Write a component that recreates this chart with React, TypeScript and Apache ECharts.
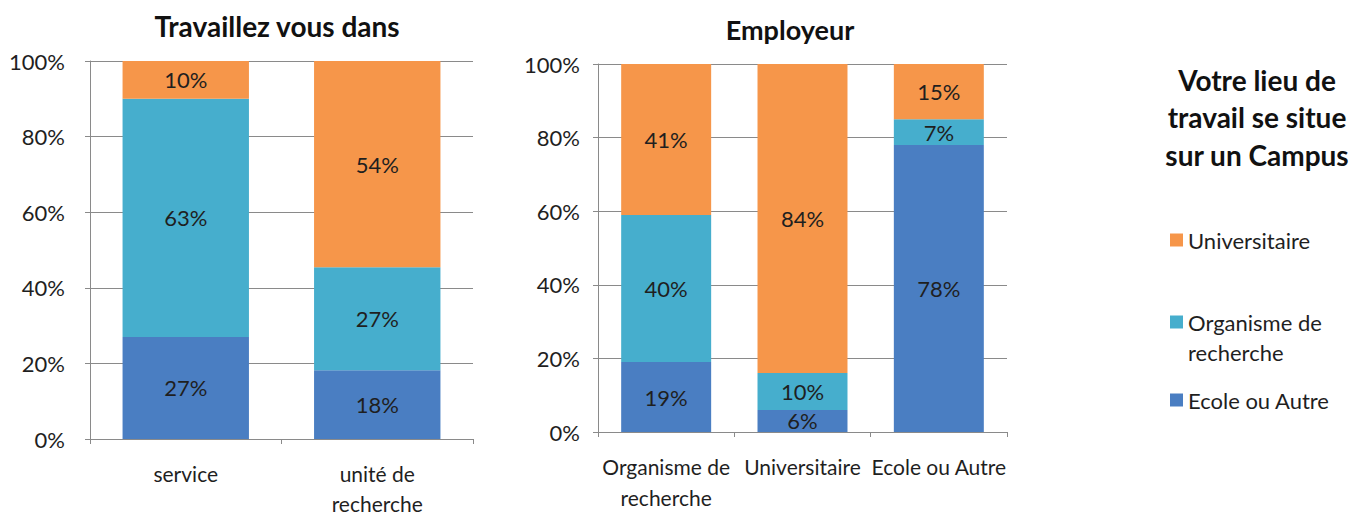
import React, { useEffect, useRef } from "react";
import * as echarts from "echarts";

const seriesNames = ["Ecole ou Autre", "Organisme de recherche", "Universitaire"];
const colors = ["#4A7EC2", "#46AECD", "#F6964A"];

const cats1 = ["service", "unité de\nrecherche"];
const ecole1 = [27, 18];
const organisme1 = [63, 27];
const univ1 = [10, 54];

const cats2 = ["Organisme de\nrecherche", "Universitaire", "Ecole ou Autre"];
const ecole2 = [19, 6, 78];
const organisme2 = [40, 10, 7];
const univ2 = [41, 84, 15];

const yTicks = [0, 20, 40, 60, 80, 100];

const FONT = "Lato, 'Open Sans', sans-serif";
const TXT = "#1f1f1f";
const AXIS = "#8A8A8A";

function toShares(groups: number[][]) {
  const n = groups[0].length;
  const totals = Array.from({ length: n }, (_, i) => groups.reduce((s, g) => s + g[i], 0));
  return groups.map((g) => g.map((v, i) => ({ value: (v / totals[i]) * 100, raw: v })));
}

export default function App() {
  const ref = useRef<HTMLDivElement>(null);
  useEffect(() => {
    if (!ref.current) return;
    const chart = echarts.init(ref.current, null, { renderer: "svg" });
    const s1 = toShares([ecole1, organisme1, univ1]);
    const s2 = toShares([ecole2, organisme2, univ2]);

    const yAxisBase = (gridIndex: number, margin: number) => ({
      type: "value",
      gridIndex,
      min: yTicks[0],
      max: yTicks[yTicks.length - 1],
      interval: 20,
      axisLine: { show: true, lineStyle: { color: AXIS, width: 1 } },
      axisTick: { show: true, length: 5, lineStyle: { color: AXIS } },
      splitLine: { show: true, lineStyle: { color: AXIS, width: 1 } },
      axisLabel: {
        formatter: "{value}%",
        fontSize: 22,
        fontFamily: FONT,
        color: TXT,
        margin,
      },
    });
    const xAxisBase = (gridIndex: number, data: string[], margin: number, lineHeight: number) => ({
      type: "category",
      gridIndex,
      data,
      axisLine: { show: true, lineStyle: { color: AXIS, width: 1 } },
      axisTick: { show: true, length: 5, alignWithLabel: false, lineStyle: { color: AXIS } },
      axisLabel: {
        fontSize: 21,
        fontFamily: FONT,
        color: TXT,
        lineHeight,
        margin,
        interval: 0,
      },
    });

    const mkSeries = (shares: any[], idx: number, stack: string) =>
      shares.map((data, k) => ({
        name: seriesNames[k],
        type: "bar",
        stack,
        xAxisIndex: idx,
        yAxisIndex: idx,
        barWidth: "66%",
        data,
        itemStyle: { color: colors[k] },
        label: {
          show: true,
          position: "inside",
          fontSize: 22,
          fontFamily: FONT,
          color: TXT,
          formatter: (p: any) => `${p.data.raw}%`,
        },
      }));

    const legendItem = (name: string, center: number) => ({
      data: [name],
      orient: "vertical",
      left: 1170,
      top: center - 13,
      padding: 0,
      itemWidth: 13,
      itemHeight: 13,
      icon: "rect",
      itemGap: 0,
      selectedMode: false,
      formatter: (n: string) => (n === "Organisme de recherche" ? "Organisme de" : n),
      textStyle: { fontSize: 22, fontFamily: FONT, color: TXT, lineHeight: 26 },
    });

    const titleStyle = {
      fontSize: 28,
      fontWeight: "bold",
      fontFamily: FONT,
      color: "#111",
      lineHeight: 32,
    };

    chart.setOption({
      animation: false,
      backgroundColor: "#ffffff",
      title: [
        { text: "Travaillez vous dans", left: 277, top: 10, textAlign: "center", padding: 0, textStyle: titleStyle },
        { text: "Employeur", left: 790, top: 13, textAlign: "center", padding: 0, textStyle: { ...titleStyle, fontSize: 27 } },
        {
          text: "Votre lieu de\ntravail se situe\nsur un Campus",
          left: 1257,
          top: 61,
          textAlign: "center",
          padding: 0,
          textStyle: { ...titleStyle, lineHeight: 37.5 },
        },
      ],
      legend: [
        legendItem("Universitaire", 240),
        legendItem("Organisme de recherche", 322),
        legendItem("Ecole ou Autre", 400),
      ],
      graphic: [
        {
          type: "text",
          left: 1188,
          top: 339,
          style: { text: "recherche", fontSize: 22, fontFamily: FONT, fill: TXT, lineHeight: 26 },
        },
      ],
      grid: [
        { left: 90, top: 61, width: 383, height: 378, outerBoundsMode: "none", containLabel: false },
        { left: 598, top: 64, width: 409, height: 368, outerBoundsMode: "none", containLabel: false },
      ],
      xAxis: [xAxisBase(0, cats1, 19, 30), xAxisBase(1, cats2, 19, 31)],
      yAxis: [yAxisBase(0, 25), yAxisBase(1, 18)],
      series: [...mkSeries(s1, 0, "a"), ...mkSeries(s2, 1, "b")],
    });
    return () => chart.dispose();
  }, []);
  return (
    <div
      ref={ref}
      style={{ position: "fixed", left: 0, top: 0, width: 1353, height: 515, background: "#fff" }}
    />
  );
}
